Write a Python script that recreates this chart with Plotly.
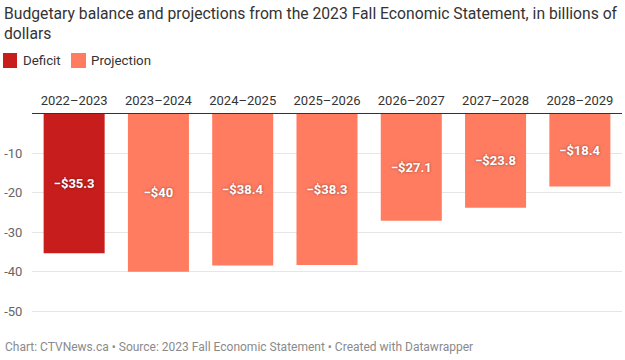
import plotly.graph_objects as go

categories = ["2022–2023", "2023–2024", "2024–2025", "2025–2026", "2026–2027", "2027–2028", "2028–2029"]
values = [-35.3, -40, -38.4, -38.3, -27.1, -23.8, -18.4]
kinds = ["Deficit", "Projection", "Projection", "Projection", "Projection", "Projection", "Projection"]
labels = ["−$35.3", "−$40", "−$38.4", "−$38.3", "−$27.1", "−$23.8", "−$18.4"]
ytick_vals = [-10, -20, -30, -40, -50]
ytick_text = ["-10", "-20", "-30", "-40", "-50"]
colors = {"Deficit": "#c71e1d", "Projection": "#ff7c61"}

W, H = 625, 360
ML, MR, MT, MB = 32, 3, 114, 39
PW, PH = W - ML - MR, H - MT - MB


def px(x):
    return (x - ML) / PW


def py(y):
    return (H - MB - y) / PH


fig = go.Figure()
for kind in ["Deficit", "Projection"]:
    xs = [c for c, k in zip(categories, kinds) if k == kind]
    ys = [v for v, k in zip(values, kinds) if k == kind]
    ts = [t for t, k in zip(labels, kinds) if k == kind]
    fig.add_trace(go.Bar(
        x=xs, y=ys, name=kind, text=ts,
        marker=dict(color=colors[kind], line=dict(width=0)),
        textposition="inside", insidetextanchor="middle",
        textfont=dict(family="Roboto", size=13, color="white", weight="bold",
                      shadow="0px 0px 3px rgba(0,0,0,0.45)"),
        textangle=0,
        hoverinfo="skip",
        showlegend=False,
    ))

fig.update_layout(
    width=W, height=H,
    barmode="overlay", bargap=0.276,
    plot_bgcolor="white", paper_bgcolor="white",
    font=dict(family="Roboto", color="#333333"),
    margin=dict(l=ML, r=MR, t=MT, b=MB),
    uniformtext=dict(minsize=8, mode="show"),
)
fig.update_xaxes(
    categoryorder="array", categoryarray=categories,
    side="top", showgrid=False, showline=True, linecolor="#333333", linewidth=1,
    ticks="outside", ticklen=3, tickcolor="white",
    tickfont=dict(size=13, color="#333333"),
    fixedrange=True,
)
fig.update_yaxes(
    range=[-52.5, 0], tickvals=ytick_vals, ticktext=ytick_text,
    showgrid=True, gridcolor="#e6e6e6", gridwidth=1, zeroline=False,
    ticks="outside", ticklen=6, tickcolor="white",
    tickfont=dict(size=13, color="#666666"),
    fixedrange=True,
)

# Title
fig.add_annotation(
    text="Budgetary balance and projections from the 2023 Fall Economic Statement, in billions of<br>dollars",
    xref="paper", yref="paper", x=px(2), y=py(2), xanchor="left", yanchor="top",
    align="left", showarrow=False, font=dict(size=15.7, color="#333333"),
)

# Legend
legend_items = [("Deficit", 3, 17, 21), ("Projection", 71, 86, 89)]
for name, sx0, sx1, tx in legend_items:
    fig.add_shape(type="rect", xref="paper", yref="paper",
                  x0=px(sx0), x1=px(sx1), y0=py(53), y1=py(68),
                  fillcolor=colors[name], line=dict(width=0))
    fig.add_annotation(text=name, xref="paper", yref="paper", x=px(tx), y=py(60.7),
                       xanchor="left", yanchor="middle", showarrow=False,
                       font=dict(size=13.3, color="#333333"))

# Footer
fig.add_annotation(
    text="Chart: CTVNews.ca • Source: 2023 Fall Economic Statement • Created with Datawrapper",
    xref="paper", yref="paper", x=px(3), y=py(347),
    xanchor="left", yanchor="middle", showarrow=False,
    font=dict(size=12, color="#8a8a8a"),
)

fig.write_html("out.html", config={"displayModeBar": False},
               post_script="document.body.style.margin='0';document.body.style.overflow='hidden';")
